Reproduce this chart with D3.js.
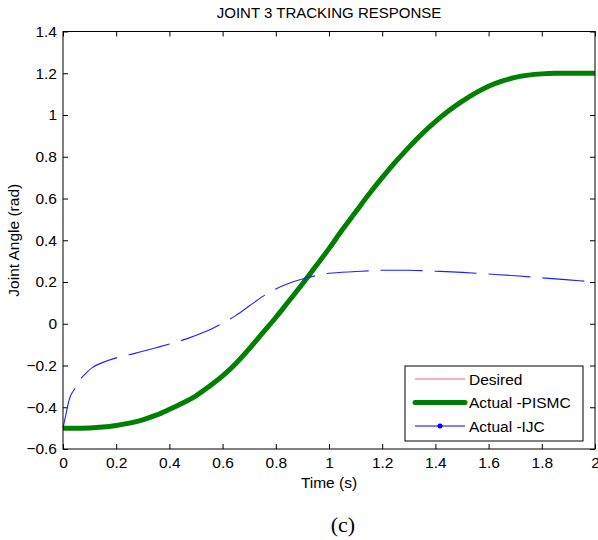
<!DOCTYPE html>
<html>
<head>
<meta charset="utf-8">
<script src="https://cdn.jsdelivr.net/npm/d3@7"></script>
<style>
  body { margin: 0; background: #fff; }
  svg { font-family: "Liberation Sans", Arial, sans-serif; }
</style>
</head>
<body>
<div id="chart"></div>
<script>
// joint 3 tracking response

var title = "JOINT 3 TRACKING RESPONSE"
var xLabel = "Time (s)"
var yLabel = "Joint Angle (rad)"
var caption = "(c)"

var xTicks = [0, 0.2, 0.4, 0.6, 0.8, 1, 1.2, 1.4, 1.6, 1.8, 2]
var yTicks = [-0.6, -0.4, -0.2, 0, 0.2, 0.4, 0.6, 0.8, 1, 1.2, 1.4]

var seriesNames = ["Desired", "Actual -PISMC", "Actual -IJC"]

// desired and PISMC overlap, both
var timeRef = [0, 0.1, 0.15, 0.2, 0.25, 0.3, 0.35, 0.4, 0.45, 0.5, 0.55, 0.6, 0.65, 0.7, 0.75, 0.8, 0.85, 0.9, 0.95, 1.0, 1.05, 1.1, 1.15, 1.2, 1.25, 1.3, 1.35, 1.4, 1.45, 1.5, 1.55, 1.6, 1.65, 1.7, 1.75, 1.8, 1.85, 1.9, 2.0]
var desired = [-0.5, -0.499, -0.495, -0.487, -0.476, -0.46, -0.438, -0.41, -0.38, -0.345, -0.3, -0.25, -0.19, -0.12, -0.045, 0.03, 0.11, 0.19, 0.275, 0.36, 0.45, 0.535, 0.62, 0.7, 0.775, 0.845, 0.91, 0.968, 1.02, 1.065, 1.105, 1.138, 1.162, 1.18, 1.191, 1.197, 1.2, 1.2, 1.2]
var pismc = [-0.5, -0.499, -0.495, -0.487, -0.476, -0.46, -0.438, -0.41, -0.38, -0.345, -0.3, -0.25, -0.19, -0.12, -0.045, 0.03, 0.11, 0.19, 0.275, 0.36, 0.45, 0.535, 0.62, 0.7, 0.775, 0.845, 0.91, 0.968, 1.02, 1.065, 1.105, 1.138, 1.162, 1.18, 1.191, 1.197, 1.2, 1.2, 1.2]

var timeIjc = [0, 0.01, 0.02, 0.03, 0.045, 0.06, 0.08, 0.11, 0.15, 0.21, 0.27, 0.35, 0.42, 0.47, 0.52, 0.56, 0.6, 0.65, 0.7, 0.75, 0.8, 0.85, 0.9, 0.95, 1.0, 1.1, 1.2, 1.3, 1.4, 1.5, 1.6, 1.7, 1.8, 1.9, 2.0]
var ijc = [-0.5, -0.44, -0.38, -0.34, -0.31, -0.275, -0.245, -0.21, -0.185, -0.16, -0.142, -0.115, -0.09, -0.07, -0.046, -0.024, 0.003, 0.04, 0.085, 0.13, 0.167, 0.194, 0.214, 0.23, 0.242, 0.25, 0.256, 0.256, 0.252, 0.246, 0.238, 0.23, 0.22, 0.21, 0.2]

function drawChart() {
    let width = 598
    let height = 540
    let margin = { top: 31.5, right: 3, bottom: 91, left: 63 }

    var svg = d3.select("#chart")
        .append("svg")
        .attr("width", width)
        .attr("height", height)

    var x = d3.scaleLinear().domain([0, 2]).range([margin.left, width - margin.right])
    var y = d3.scaleLinear().domain([-0.6, 1.4]).range([height - margin.bottom, margin.top])

    let x0 = x(0), x1 = x(2), y0 = y(-0.6), y1 = y(1.4)
    let tickLen = 5

    // ticks, inward on all four sides
    var fmt = function (d) { return d3.format("")(+d.toFixed(1)) }

    svg.append("g").attr("transform", "translate(0," + y0 + ")")
        .call(d3.axisBottom(x).tickValues(xTicks).tickSizeInner(-tickLen).tickSizeOuter(0).tickPadding(8).tickFormat(fmt))
    svg.append("g").attr("transform", "translate(0," + y1 + ")")
        .call(d3.axisTop(x).tickValues(xTicks).tickSizeInner(-tickLen).tickSizeOuter(0).tickFormat(""))
    svg.append("g").attr("transform", "translate(" + x0 + ",0)")
        .call(d3.axisLeft(y).tickValues(yTicks).tickSizeInner(-tickLen).tickSizeOuter(0).tickPadding(6).tickFormat(fmt))
    svg.append("g").attr("transform", "translate(" + x1 + ",0)")
        .call(d3.axisRight(y).tickValues(yTicks).tickSizeInner(-tickLen).tickSizeOuter(0).tickFormat(""))

    svg.selectAll(".domain").remove()
    svg.selectAll(".tick line").attr("stroke", "#000")
    svg.selectAll(".tick text")
        .attr("fill", "#000")
        .style("font-size", "15.5px")
        .style("font-family", "Liberation Sans, Arial, sans-serif")

    // lines
    var line = d3.line()
        .x(function (d) { return x(d[0]) })
        .y(function (d) { return y(d[1]) })
        .curve(d3.curveCatmullRom.alpha(0.5))

    var desiredPts = timeRef.map(function (t, i) { return [t, desired[i]] })
    var pismcPts = timeRef.map(function (t, i) { return [t, pismc[i]] })
    var ijcPts = timeIjc.map(function (t, i) { return [t, ijc[i]] })

    svg.append("path")
        .attr("d", line(desiredPts))
        .attr("fill", "none")
        .attr("stroke", "#ff6060")
        .attr("stroke-width", 1)

    svg.append("path")
        .attr("d", line(pismcPts))
        .attr("fill", "none")
        .attr("stroke", "#008000")
        .attr("stroke-width", 5)

    svg.append("path")
        .attr("d", line(ijcPts))
        .attr("fill", "none")
        .attr("stroke", "#2020ff")
        .attr("stroke-width", 1.1)
        .attr("stroke-dasharray", "42,12")

    // frame
    svg.append("rect")
        .attr("x", x0).attr("y", y1)
        .attr("width", x1 - x0).attr("height", y0 - y1)
        .attr("fill", "none")
        .attr("stroke", "#000")
        .attr("stroke-width", 1)

    // texts
    svg.append("text")
        .attr("x", (x0 + x1) / 2).attr("y", 18)
        .attr("text-anchor", "middle")
        .style("font-size", "15px")
        .text(title)

    svg.append("text")
        .attr("x", (x0 + x1) / 2).attr("y", 488)
        .attr("text-anchor", "middle")
        .style("font-size", "15.5px")
        .text(xLabel)

    svg.append("text")
        .attr("transform", "translate(19," + (y0 + y1) / 2 + ") rotate(-90)")
        .attr("text-anchor", "middle")
        .style("font-size", "15.5px")
        .text(yLabel)

    svg.append("text")
        .attr("x", 343).attr("y", 532)
        .attr("text-anchor", "middle")
        .style("font-family", "Liberation Serif, Times New Roman, serif")
        .style("font-size", "22px")
        .text(caption)

    // legend
    let lx = 405, ly = 366, lw = 178, lh = 75
    var legend = svg.append("g")
    legend.append("rect")
        .attr("x", lx).attr("y", ly)
        .attr("width", lw).attr("height", lh)
        .attr("fill", "#fff")
        .attr("stroke", "#000")
        .attr("stroke-width", 1)

    var legendStyles = [
        { color: "#ff6060", width: 1, marker: 0 },
        { color: "#008000", width: 5, marker: 2 },
        { color: "#0000ff", width: 1, marker: 2.5 }
    ]

    seriesNames.forEach(function (name, i) {
        let yy = ly + 13 + i * 23.5
        let st = legendStyles[i]
        legend.append("line")
            .attr("x1", lx + 10).attr("x2", lx + 60)
            .attr("y1", yy).attr("y2", yy)
            .attr("stroke", st.color)
            .attr("stroke-width", st.width)
            .attr("stroke-linecap", i == 1 ? "round" : "butt")
        if (st.marker > 0) {
            legend.append("circle")
                .attr("cx", lx + 35).attr("cy", yy)
                .attr("r", st.marker)
                .attr("fill", st.color)
        }
        legend.append("text")
            .attr("x", lx + 64).attr("y", yy + 5.5)
            .style("font-size", "15.5px")
            .text(name)
    })
}

document.addEventListener('DOMContentLoaded', drawChart, false);
</script>
</body>
</html>
